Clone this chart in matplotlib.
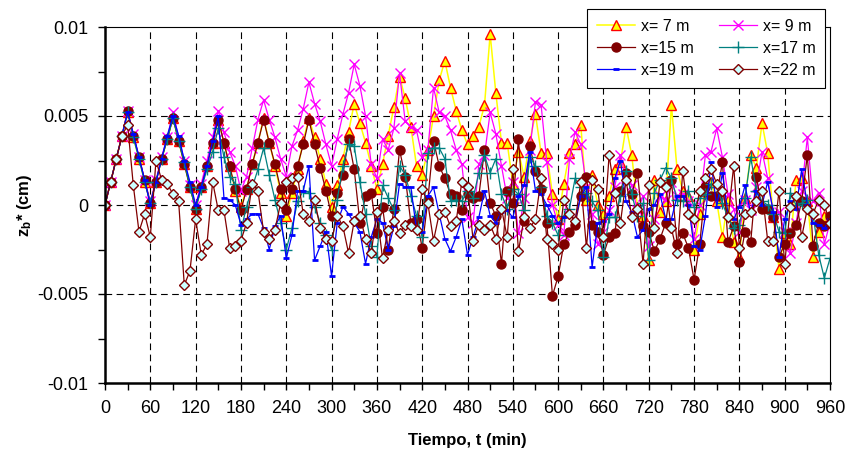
import numpy as np
import matplotlib
matplotlib.use("Agg")
import matplotlib.pyplot as plt
from matplotlib.ticker import MultipleLocator, FixedLocator

plt.rcParams['font.family'] = ['Liberation Sans', 'DejaVu Sans']
plt.rcParams['mathtext.fontset'] = 'custom'
plt.rcParams['mathtext.rm'] = 'Liberation Sans'
plt.rcParams['mathtext.bf'] = 'Liberation Sans:bold'
plt.rcParams['mathtext.it'] = 'Liberation Sans:italic'

# sampling times (min), every 7.5 min from 0 to 960
t = np.arange(0, 960.01, 7.5)

# values in units of 1e-3 cm
x7 = [0, 1.3, 2.6, 3.9, 5.2, 3.8, 2.6, 1.3, 0.1, 1.3, 2.6, 3.7, 4.9, 3.6, 2.3, 1.0, -0.2, 1.0, 2.2, 3.5, 4.8, 3.5, 2.2, 0.8, -0.1, 0.9, 2.3, 3.5, 4.9, 3.5,
      2.2, 0.7, -0.6, 0.7, 2.0, 3.6, 4.9, 3.8, 2.6, 1.2, -0.1, 1.1, 2.6, 4.1, 5.7, 4.6, 3.5, 2.2, 0.9, 2.3, 3.9, 5.5, 7.2, 6.0, 4.4, 2.2, 1.7, 3.1, 5.0, 7.0,
      8.1, 6.6, 5.3, 4.2, 3.4, 3.9, 4.4, 5.6, 9.6, 6.3, 3.5, 3.5, 1.2, 3.0, 1.6, 3.6, 5.1, 2.9, 2.9, 0.6, -0.8, 1.2, 2.9, 3.4, 4.5, 0.3, 1.7, 0.0, -0.5, 0.5,
      2.0, 2.4, 4.4, 2.8, -0.1, -0.6, -3.1, 1.4, -0.4, 0.2, 5.6, 2.0, 0.8, 0.5, -2.5, -0.5, 0.8, 1.3, 0.2, -1.8, 0.3, -2.1, -2.9, 0.4, 2.8, 2.1, 4.6, 2.9, -0.7, -3.6,
      -1.6, -2.2, 1.4, 1.5, 0.2, -2.9, -1.5, -0.6, -1.0]
x9 = [0, 1.3, 2.6, 3.9, 5.3, 4.0, 2.7, 1.4, 0.2, 1.4, 2.7, 3.8, 5.2, 3.8, 2.5, 1.1, 0.0, 1.2, 2.5, 3.8, 5.3,
      4.1, 3.0, 2.2, 0.8, 1.6, 3.2, 4.8, 5.9, 4.8, 3.8, 2.6, 1.6, 3.3, 4.2, 5.4, 6.9, 5.7, 4.7, 3.4, 2.2, 3.7, 5.1,
      6.3, 7.9, 6.7, 5.0, 2.3, 1.5, 3.7, 3.1, 4.3, 7.4, 4.7, 4.4, 4.2, 2.7, 3.1, 6.6, 5.2, 5.0, 4.2, 3.1, 2.3, -0.7,
      -1.0, 2.3, 2.8, 5.2, 4.0, 2.2, 0.4, 1.3, -1.6, 0.4, 3.1, 5.8, 5.6, 2.4, 0.0, -1.1, -1.7, 2.6, 4.1, 3.4,
      1.0, -0.5, -2.2, -1.5, -0.3, 1.0, 2.8, 1.5, 1.1, -0.3, 0.5, -2.3, -0.8, 0.5, 0.3, 1.3, 0.5, 0.6, 0.2, -1.9, 0.0, 2.8,
      3.0, 4.3, 2.7, 0.6, -0.2, -1.5, 0.3, -0.3, 1.0, 3.0, 1.5, -0.5, -0.4, -1.5, -2.7, -1.0, 0.8, 3.8, 0.2, 0.7, -2.2, -1.0]
x15 = [0, 1.3, 2.6, 3.9, 5.3, 3.9, 2.7, 1.4, 0.1, 1.3, 2.6, 3.7, 4.9, 3.6, 2.3, 1.0, -0.2, 1.0, 2.2, 3.5, 4.8, 3.5, 2.2, 0.9, -0.3, 0.9, 2.3, 3.5, 4.8, 3.5, 2.3, 0.9, -0.3, 0.9, 2.2, 3.4, 4.8, 3.4, 2.1, 0.8, -0.6, 0.7, 1.7, 3.7,
       2.0, -1.0, 0.5, 0.7, -1.6, -0.1, -2.5, -0.2, 3.1, 1.6, -1.0, -0.8, -2.4, 0.3, 3.6, 2.2, 1.5, 0.6, 0.5, -0.3, 0.6,
       0.4, 0.5, 3.1, 0.1, -0.6, -3.3, 0.8, 0.1, 3.7, -0.9, 3.3, 1.9, 0.9, -1.0, -5.1, -4.0, -2.2, -1.5, -1.1, 0.5, 1.6,
       -1.1, -1.5, -2.8, -1.8, -1.6, 0.8, 1.8, 0.6, 1.8, -1.2, -1.5, -2.6, -1.9, -1.0, 1.4, -2.2, -1.6, -2.4, -4.2, -2.2,
       1.0, 0.5, 0.5, 2.4, -2.1, -1.2, -3.2, -1.5, -2.1, 1.6, -0.2, -0.2, -0.7, -2.9, -2.2, -1.6, -1.1, 0.2, 2.8, -2.3, -1.0, -1.2, -0.6]
x17 = [0, 1.3, 2.6, 3.9, 5.2, 3.8, 2.6, 1.3, 0.1, 1.3, 2.6, 3.7, 4.9, 3.6, 2.4, 1.0, -0.2, 0.9, 2.0, 3.0, 4.3,
       2.7, 1.6, 1.2, -1.4, -0.1, 1.0, 2.0, 3.2, 1.7, 0.3, -1.0, -2.5, -1.3, 0.2, 0.8, 0.7, -0.1, -1.0, -1.7, -2.5, 0.3, 2.2,
       3.4, 3.3, 1.3, -0.5, -2.3, -2.9, 1.1, 0.4, -0.3, 2.2, 1.7, 0.5, -0.6, -1.8, 2.9, 3.2, 3.2, 2.6, 0.2, 0.3, 0.2, 0.8,
       0.4, 1.8, 2.8, 1.8, 2.6, 0.6, -0.2, 0.9, 0.6, -0.3, 2.7, 2.2, 1.0, -0.6, -1.0, -1.7, -0.6, -0.2, 1.5, 1.0, 0.7, 0.2,
       -0.3, -2.9, -0.7, -0.7, 0.5, 1.9, 0.6, -0.6, 0.1, -3.1, 0.7, 1.4, 2.1, 1.5, 0.3, 0.2, 0.8, -0.1, 0.4, 0.6, 1.2,
       1.0, 0.1, -0.7, -1.3, -1.1, 0.4, 2.7, 0.8, 0.2, 0.0, -0.5, -1.5, -1.6, 0.7, 0.0, 0.1, 0.3, -0.5, -2.8, -4.1, -3.0]
x19 = [0, 1.3, 2.6, 3.9, 5.2, 4.0, 2.7, 1.4, 0.0, 1.3, 2.6, 3.9, 5.0, 3.9, 2.5, 1.3, 0.0, 1.0, 2.2, 3.6, 5.0,
       0.4, 0.3, 0.0, -1.1, -0.8, -0.5, -0.5, -1.3, -2.5, -1.2, -0.6, -3.0, -1.7, 0.8, 0.8, 2.2, -3.1, -2.3, -1.5, -4.0, -1.0, -0.1,
       -0.5, -1.0, -1.5, -3.3, -1.8, -0.8, -1.0, -2.5, -1.2, 1.2, 1.0, 1.0, -1.4, -1.5, 0.5, 1.0, -0.5, -1.9, -2.6, -1.8, -0.8, -2.8,
       -1.8, -0.7, 0.8, -0.6, -1.0, -0.4, -0.3, -0.7, 0.5, 1.1, 3.0, 0.8, 0.6, 0.0, -0.6, -1.0, -0.7, -0.6, -0.8, 0.5, 1.0, -3.5,
       -1.0, -0.9, -0.5, 1.5, 2.5, 0.2, -0.4, -1.8, -1.4, -0.2, 0.0, 0.6, -0.8, -0.8, 0.5, 0.5, 0.0, -2.3, -2.5, -0.6, 2.4,
       -0.1, 1.8, -0.5, -0.8, -0.1, 1.1, -0.5, 0.8, 0.0, 1.3, -0.4, -2.9, -0.8, 0.2, -0.2, 2.0, 0.0, -1.0, -1.1, -1.3, -0.8]
x22 = [0, 1.3, 2.6, 3.9, 4.5, 1.1, -1.5, -0.5, -1.8, 2.5, 1.4, 1.2, 0.6, 0.2, -4.5, -3.7, -0.8, -2.8, -2.2, 1.3,
       -0.3, -0.3, -2.4, -2.3, -2.0, -1.0, 1.2, 0.8, -1.5, -1.9, -1.4, 0.1, 1.3, 1.5, 1.6, -0.5, -0.9, 0.3, -1.3, -1.9, -2.0, -0.6, -1.2, -2.7,
       -0.9, -0.6, -1.9, -2.7, -0.4, -3.0, -1.4, -0.9, -1.6, -1.1, -1.2, -1.4, 0.9, 0.1, -2.0, -0.5, -0.4, -1.2, -0.9, 1.3, 1.0,
       -2.0, -1.1, -1.4, -1.1, -1.9, -0.2, -1.8, 2.0, -2.6, -0.7, -1.3, -0.8, 1.5, -1.9, -2.2, -2.5, 0.3, -0.5, -0.9, 1.3, -2.4,
       1.4, 0.9, -1.8, 2.8, 0.7, -1.0, 1.4, -0.7, -0.2, -3.3, 1.1, -1.3, 1.3, 1.0, -1.3, -2.7, 1.9, -0.5, -0.8, 0.8, 1.5,
       2.0, 1.2, 0.8, -0.7, 2.2, -2.4, -0.5, -0.4, 0.2, 0.8, -2.0, -2.0, 0.8, -3.3, -0.1, 0.5, -1.8, -0.2, -0.5, 0.3, 0.0, -1.0]

labels = ['x= 7 m', 'x= 9 m', 'x=15 m', 'x=17 m', 'x=19 m', 'x=22 m']
xticks = [0, 60, 120, 180, 240, 300, 360, 420, 480, 540, 600, 660, 720, 780, 840, 900, 960]
yticks = [-0.01, -0.005, 0, 0.005, 0.01]
ytick_labels = ['-0.01', '-0.005', '0', '0.005', '0.01']

W, H = 848, 459
fig = plt.figure(figsize=(W / 100, H / 100), dpi=100)
ax = fig.add_axes([105 / W, 1 - 383 / H, (830 - 105) / W, (383 - 27) / H])

sc = 1e-3
styles = [
    dict(color='#FFFF00', marker='^', ms=7.5, mfc='#FFFF00', mec='#FF0000', mew=1.0),
    dict(color='#FF00FF', marker='x', ms=7, mfc='#FF00FF', mec='#FF00FF', mew=1.0),
    dict(color='#800000', marker='o', ms=6.5, mfc='#800000', mec='#800000', mew=1.0),
    dict(color='#008080', marker='+', ms=8, mfc='#008080', mec='#008080', mew=1.0),
    dict(color='#0000FF', marker='_', ms=5, mfc='#0000FF', mec='#0000FF', mew=2.0),
    dict(color='#800000', marker='D', ms=5.5, mfc='#CCFFFF', mec='#800000', mew=1.0),
]
series = [x7, x9, x15, x17, x19, x22]
handles = []
for vals, lab, st in zip(series, labels, styles):
    lw = 1.1 if st['color'] == '#FFFF00' else 0.9
    h, = ax.plot(t, np.array(vals) * sc, lw=lw, label=lab, **st)
    handles.append(h)

ax.set_xlim(0, 960)
ax.set_ylim(-0.01, 0.01)
ax.xaxis.set_major_locator(FixedLocator(xticks))
ax.xaxis.set_minor_locator(MultipleLocator(30))
ax.set_xticklabels([str(v) for v in xticks])
ax.yaxis.set_major_locator(FixedLocator(yticks))
ax.yaxis.set_minor_locator(MultipleLocator(0.0025))
ax.set_yticklabels(ytick_labels)
ax.tick_params(axis='both', which='both', direction='out', length=5, width=1, color='black')
ax.tick_params(axis='both', which='major', labelsize=13, pad=7)

for v in xticks[1:-1]:
    ax.axvline(v, color='black', lw=0.8, ls=(0, (6, 4)), zorder=0.5)
for v in [-0.005, 0, 0.005]:
    ax.axhline(v, color='black', lw=0.8, ls=(0, (6, 4)), zorder=0.5)

for s in ['left', 'bottom']:
    ax.spines[s].set_linewidth(1.8)
for s in ['top', 'right']:
    ax.spines[s].set_linewidth(0.8)

ax.set_xlabel('Tiempo, t (min)', fontsize=12, fontweight='bold', labelpad=12)
ax.set_ylabel(r'$\mathbf{z_b}$* (cm)', fontsize=12, fontweight='bold', labelpad=2)

order = [0, 2, 4, 1, 3, 5]
leg = fig.legend([handles[i] for i in order], [labels[i] for i in order], ncol=2,
                 loc='upper left', bbox_to_anchor=(587 / W, 1 - 9 / H), bbox_transform=fig.transFigure,
                 borderaxespad=0, fontsize=11.5, frameon=True, fancybox=False, shadow=False,
                 edgecolor='black', framealpha=1, handlelength=2.4, handletextpad=0.35,
                 columnspacing=1.6, labelspacing=0.45, borderpad=0.6)
leg.get_frame().set_linewidth(0.8)

fig.savefig('out.png', dpi=100)
